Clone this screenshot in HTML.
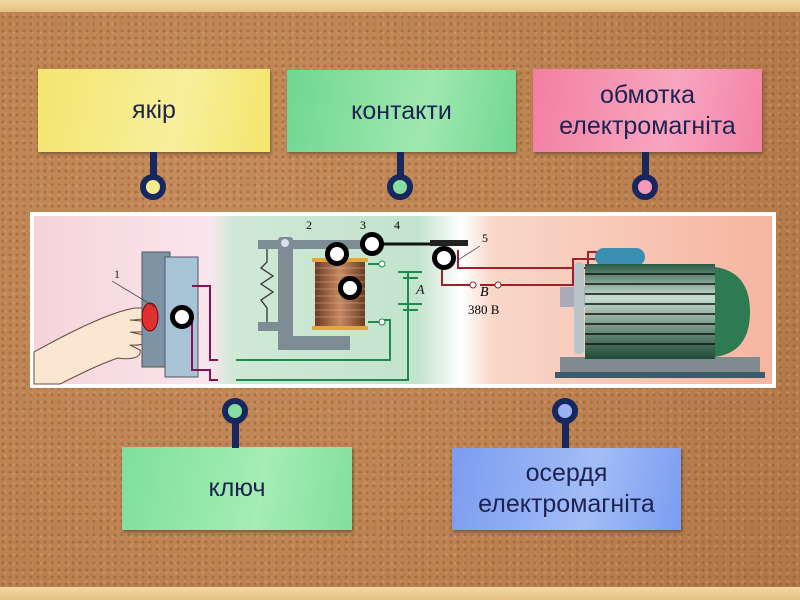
<!DOCTYPE html>
<html><head><meta charset="utf-8">
<style>
html,body{margin:0;padding:0}
body{width:800px;height:600px;position:relative;overflow:hidden;background:#bd8453;font-family:"Liberation Sans","DejaVu Sans",sans-serif}
.cork{position:absolute;left:0;top:0;width:800px;height:600px;background:
radial-gradient(circle at 3px 3px,rgba(120,70,30,.35) 1px,transparent 2px) 0 0/7px 7px,
radial-gradient(circle at 2px 2px,rgba(230,170,110,.35) 1px,transparent 2px) 3px 4px/9px 9px,
radial-gradient(circle at 30% 40%,#c68d5c 0,#bb8150 60%,#b07646 100%)}
.strip{position:absolute;left:0;width:800px;background:linear-gradient(#f3d9a1,#e5c083)}
.note{position:absolute;display:flex;align-items:center;justify-content:center;text-align:center;color:#1d2350;font-size:25px;line-height:31px;box-shadow:1px 2px 3px rgba(0,0,0,.35)}
.stem{position:absolute;width:7px;background:#16285f}
.pin{position:absolute;width:14px;height:14px;border:6px solid #16285f;border-radius:50%}
.mk{position:absolute;width:14px;height:14px;border:5px solid #000;border-radius:50%;background:#fff}
</style></head><body>
<div class="cork"></div>
<div class="strip" style="top:0;height:12px"></div>
<div class="strip" style="top:587px;height:13px"></div>

<div class="note" style="left:38px;top:69px;width:232px;height:83px;background:linear-gradient(100deg,#f4e56e,#f8ef9c 60%,#f3e56c)">якір</div>
<div class="stem" style="left:150px;top:152px;height:24px"></div>
<div class="pin" style="left:140px;top:174px;background:#f6ec8a"></div>

<div class="note" style="left:287px;top:70px;width:229px;height:82px;background:linear-gradient(100deg,#6fd78f,#9fe8b0 60%,#72d792)">контакти</div>
<div class="stem" style="left:397px;top:152px;height:24px"></div>
<div class="pin" style="left:387px;top:174px;background:#86dea0"></div>

<div class="note" style="left:533px;top:69px;width:229px;height:83px;background:linear-gradient(100deg,#f27fa3,#f8a5c0 60%,#f283a7)">обмотка<br>електромагніта</div>
<div class="stem" style="left:642px;top:152px;height:24px"></div>
<div class="pin" style="left:632px;top:174px;background:#f59ab8"></div>

<div class="note" style="left:122px;top:447px;width:230px;height:83px;background:linear-gradient(100deg,#7fe09a,#a4edb5 60%,#82df9c)">ключ</div>
<div class="stem" style="left:232px;top:420px;height:28px"></div>
<div class="pin" style="left:222px;top:398px;background:#86dea0"></div>

<div class="note" style="left:452px;top:448px;width:229px;height:82px;background:linear-gradient(100deg,#7b9cf0,#a3bdf6 60%,#7b9cf0)">осердя<br>електромагніта</div>
<div class="stem" style="left:562px;top:420px;height:28px"></div>
<div class="pin" style="left:552px;top:398px;background:#9bb3f3"></div>

<svg style="position:absolute;left:30px;top:212px" width="746" height="176" viewBox="0 0 746 176">
<defs>
<linearGradient id="bg" x1="0" x2="1">
<stop offset="0" stop-color="#f6d3dc"/><stop offset="0.24" stop-color="#f9e6ec"/><stop offset="0.27" stop-color="#cfe9d6"/><stop offset="0.52" stop-color="#c3e3cc"/><stop offset="0.58" stop-color="#fff"/><stop offset="0.62" stop-color="#f9d7c9"/><stop offset="1" stop-color="#f6b59f"/>
</linearGradient>
<linearGradient id="mot" x1="0" y1="0" x2="0" y2="1"><stop offset="0" stop-color="#2a5a44"/><stop offset="0.35" stop-color="#c7dcd0"/><stop offset="1" stop-color="#1f4a36"/></linearGradient>
<linearGradient id="coil" x1="0" x2="1"><stop offset="0" stop-color="#6b3a22"/><stop offset="0.5" stop-color="#c58a63"/><stop offset="1" stop-color="#6b3a22"/></linearGradient>
</defs>
<rect x="0" y="0" width="746" height="176" fill="#fff"/>
<rect x="4" y="4" width="738" height="168" fill="url(#bg)"/>
<!-- hand -->
<path d="M4 140 C40 120 80 100 105 96 L122 96 C128 101 118 108 100 108 L122 110 C128 116 118 121 100 120 L118 124 C122 130 112 134 100 133 L110 138 C112 146 100 148 88 146 C70 152 50 162 30 172 L4 172 Z" fill="#fbe6d2" stroke="#6a4a3a" stroke-width="1"/>
<!-- switch -->
<rect x="112" y="40" width="28" height="115" fill="#7f93a6" stroke="#555"/>
<rect x="135" y="45" width="33" height="120" fill="#a9c3d6" stroke="#556"/>
<ellipse cx="120" cy="105" rx="8" ry="14" fill="#e03030" stroke="#700"/>
<text x="84" y="66" font-family="Liberation Serif" font-size="12" fill="#222">1</text>
<line x1="82" y1="69" x2="125" y2="95" stroke="#333" stroke-width="0.7"/>
<path d="M162 74 H180 V148 H188 M162 100 V158 H180 V168 H188" fill="none" stroke="#8a1050" stroke-width="2"/>
<path d="M206 148 H360 V108 H350 M206 168 H378 V60 H370" fill="none" stroke="#1e8a50" stroke-width="2"/>
<rect x="228" y="28" width="120" height="9" fill="#7e8c96"/>
<rect x="228" y="110" width="30" height="9" fill="#7e8c96"/>
<rect x="248" y="25" width="15" height="112" fill="#7e8c96" rx="3"/>
<rect x="248" y="124" width="72" height="14" fill="#7e8c96"/>
<circle cx="255" cy="31" r="4" fill="#dde"/>
<path d="M237 37 V50 L231 56 L243 64 L231 72 L243 80 L231 88 L237 96 V110" fill="none" stroke="#333" stroke-width="1.3"/>
<rect x="282" y="46" width="56" height="4" fill="#e0a83a"/>
<rect x="285" y="50" width="50" height="64" fill="url(#coil)"/>
<rect x="282" y="114" width="56" height="4" fill="#e0a83a"/>
<g stroke="#d9b49a" stroke-width="0.6">
<line x1="285" y1="56" x2="335" y2="56"/><line x1="285" y1="63" x2="335" y2="63"/><line x1="285" y1="70" x2="335" y2="70"/><line x1="285" y1="77" x2="335" y2="77"/><line x1="285" y1="84" x2="335" y2="84"/><line x1="285" y1="91" x2="335" y2="91"/><line x1="285" y1="98" x2="335" y2="98"/><line x1="285" y1="105" x2="335" y2="105"/></g>
<path d="M338 52 H350 M338 110 H350" stroke="#1e8a50" stroke-width="2"/>
<circle cx="352" cy="52" r="3" fill="#fff" stroke="#1e8a50"/><circle cx="352" cy="110" r="3" fill="#fff" stroke="#1e8a50"/>
<path d="M368 60 H392 M373 66 H388 M368 92 H392 M373 98 H388" stroke="#1e8a50" stroke-width="2"/>
<text x="386" y="82" font-family="Liberation Serif" font-style="italic" font-size="14" fill="#223">A</text>
<text x="276" y="17" font-family="Liberation Serif" font-size="12">2</text>
<text x="330" y="17" font-family="Liberation Serif" font-size="12">3</text>
<text x="364" y="17" font-family="Liberation Serif" font-size="12">4</text>
<line x1="330" y1="32" x2="400" y2="32" stroke="#111" stroke-width="3"/>
<rect x="400" y="28" width="38" height="6" fill="#222"/>
<text x="452" y="30" font-family="Liberation Serif" font-size="12">5</text>
<line x1="428" y1="48" x2="450" y2="34" stroke="#333" stroke-width="0.7"/>
<path d="M428 38 V56 H558 V40 H600 M412 52 V73 H440 M450 73 H543 V47 H600" fill="none" stroke="#a0202a" stroke-width="2"/>
<circle cx="443" cy="73" r="3" fill="#fff" stroke="#a0202a"/><circle cx="468" cy="73" r="3" fill="#fff" stroke="#a0202a"/>
<text x="450" y="84" font-family="Liberation Serif" font-style="italic" font-size="14">B</text>
<text x="438" y="102" font-family="Liberation Serif" font-size="13">380 B</text>
<rect x="565" y="36" width="50" height="18" rx="9" fill="#3a8eb0"/>
<rect x="530" y="145" width="200" height="18" fill="#7f8a93"/>
<rect x="525" y="160" width="210" height="6" fill="#3c5a68"/>
<rect x="530" y="75" width="25" height="20" fill="#aab"/>
<rect x="544" y="50" width="10" height="92" rx="4" fill="#b8c4c8"/>
<rect x="555" y="52" width="130" height="95" fill="url(#mot)"/>
<path d="M685 55 Q720 60 720 100 Q720 140 685 145 Z" fill="#2e7a52"/>
<g stroke="#111" stroke-width="1.5"><line x1="555" y1="62" x2="685" y2="62"/><line x1="555" y1="72" x2="685" y2="72"/><line x1="555" y1="82" x2="685" y2="82"/><line x1="555" y1="92" x2="685" y2="92"/><line x1="555" y1="102" x2="685" y2="102"/><line x1="555" y1="112" x2="685" y2="112"/><line x1="555" y1="122" x2="685" y2="122"/><line x1="555" y1="132" x2="685" y2="132"/></g>
</svg>
<div class="mk" style="left:170px;top:305px"></div>
<div class="mk" style="left:325px;top:242px"></div>
<div class="mk" style="left:338px;top:276px"></div>
<div class="mk" style="left:360px;top:232px"></div>
<div class="mk" style="left:432px;top:246px"></div>
</body></html>
